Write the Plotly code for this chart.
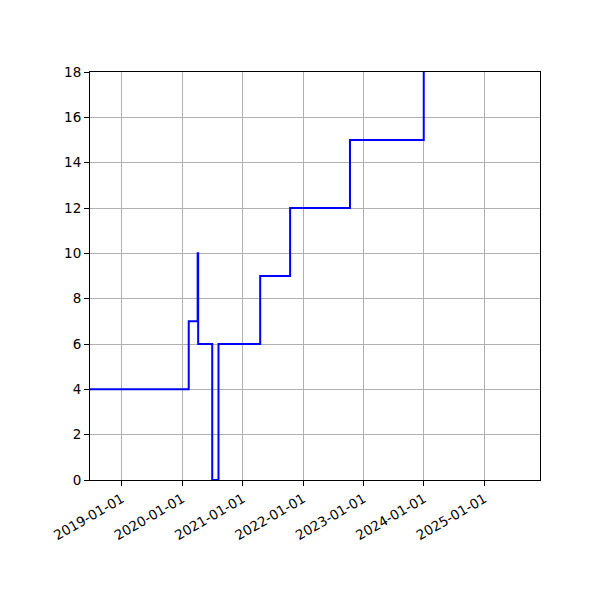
import plotly.graph_objects as go

# step data (value holds until next date)
dates = ["2018-06-22", "2020-02-09", "2020-04-03", "2020-04-06", "2020-06-30",
         "2020-08-07", "2021-04-16", "2021-10-14", "2022-10-11", "2023-12-31"]
values = [4, 7, 10, 6, 0, 6, 9, 12, 15, 18]

tick_dates = ["2019-01-01", "2020-01-01", "2021-01-01", "2022-01-01",
              "2023-01-01", "2024-01-01", "2025-01-01"]
y_ticks = [0, 2, 4, 6, 8, 10, 12, 14, 16, 18]

fig = go.Figure()
fig.add_trace(go.Scatter(
    x=dates, y=values,
    mode="lines",
    line=dict(color="blue", width=2, shape="hv"),
    showlegend=False
))

axis_style = dict(
    showline=True, linecolor="black", linewidth=1, mirror=True,
    ticks="outside", ticklen=5, tickcolor="black", tickwidth=1,
    showgrid=True, gridcolor="#b0b0b0", gridwidth=1,
    zeroline=False,
    tickfont=dict(family="DejaVu Sans", size=13.5, color="black"),
)

# page body adds 8px, so margins are shifted to compensate
fig.update_layout(
    width=600, height=600,
    margin=dict(l=82, r=68, t=64, b=128, autoexpand=False),
    plot_bgcolor="white", paper_bgcolor="white",
    xaxis=dict(
        range=["2018-06-22", "2025-12-03"],
        tickvals=tick_dates, ticktext=tick_dates,
        tickangle=-30,
        **axis_style
    ),
    yaxis=dict(
        range=[0, 18],
        tickvals=y_ticks,
        **axis_style
    ),
)

fig.write_html("out.html")
